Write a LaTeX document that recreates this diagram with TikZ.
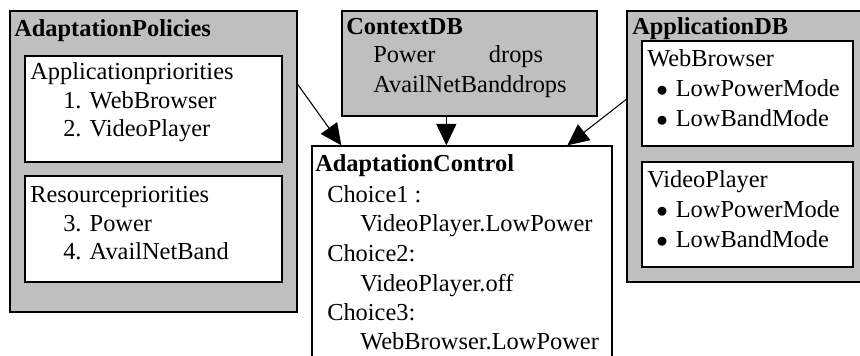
\documentclass[tikz,border=0pt]{standalone}
\usepackage{fontspec}
\setmainfont{Liberation Serif}
\usetikzlibrary{arrows.meta,fit,calc,positioning}

\tikzset{
  graybox/.style={draw,line width=1pt,fill=gray!50!white,inner sep=0pt},
  whitebox/.style={draw,line width=1pt,fill=white,inner sep=0pt},
  txt/.style={anchor=base west,inner sep=0pt,font=\fontsize{18.3}{21}\selectfont},
  ttl/.style={txt,font=\fontsize{18.3}{21}\selectfont\bfseries},
  arr/.style={line width=0.8pt,-{Triangle[length=16pt,width=15pt]}}
}
\newcommand{\bul}{$\bullet$\hspace{6pt}}

\begin{document}
\begin{tikzpicture}[x=0.75pt,y=-0.75pt]
\useasboundingbox (0,0) rectangle (860,356);
\clip (0,0) rectangle (860,356);

% boxes
\node[graybox,fit={(10,11) (297,312)}] (pol) {};
\node[whitebox,fit={(25,56) (282,162)}] (appprio) {};
\node[whitebox,fit={(25,176) (282,282)}] (resprio) {};
\node[graybox,fit={(342,11) (597,116)}] (ctx) {};
\node[whitebox,fit={(312,146) (612,380)}] (ctrl) {};
\node[graybox,fit={(627,11) (880,282)}] (appdb) {};
\node[whitebox,fit={(642,41) (853,146)}] (web) {};
\node[whitebox,fit={(642,162) (853,267)}] (video) {};

% adaptation policies
\node[ttl] (polttl) at (14,37) {AdaptationPolicies};
\node[txt] (appttl) at (30,80) {Applicationpriorities};
\node[txt] (app1) at (63,109) {1. WebBrowser};
\node[txt] (app2) at (63,137) {2. VideoPlayer};
\node[txt] (resttl) at (30,202) {Resourcepriorities};
\node[txt] (res3) at (63,231) {3. Power};
\node[txt] (res4) at (63,259) {4. AvailNetBand};

% context db
\node[ttl] (ctxttl) at (346,35) {ContextDB};
\node[txt] (ctx1) at (373,63) {Power\hspace{40pt}drops};
\node[txt] (ctx2) at (373,93) {AvailNetBanddrops};

% adaptation control
\node[ttl] (ctrlttl) at (315,172) {AdaptationControl};
\node[txt] (ch1) at (327,202) {Choice1 :};
\node[txt] (ch1a) at (360,231) {VideoPlayer.LowPower};
\node[txt] (ch2) at (327,261) {Choice2:};
\node[txt] (ch2a) at (360,291) {VideoPlayer.off};
\node[txt] (ch3) at (327,320) {Choice3:};
\node[txt] (ch3a) at (360,349) {WebBrowser.LowPower};

% application db
\node[ttl] (dbttl) at (632,35) {ApplicationDB};
\node[txt] (webttl) at (647,67) {WebBrowser};
\node[txt] (web1) at (656,97) {\bul LowPowerMode};
\node[txt] (web2) at (656,127) {\bul LowBandMode};
\node[txt] (vidttl) at (647,187) {VideoPlayer};
\node[txt] (vid1) at (656,217) {\bul LowPowerMode};
\node[txt] (vid2) at (656,247) {\bul LowBandMode};

% arrows
\draw[arr] ($(pol.north east)+(0,74)$) -- ($(ctrl.north west)+(30,0)$);
\draw[arr] ($(ctx.south west)+(105,0)$) -- ($(ctrl.north west)+(135,0)$);
\draw[arr] ($(appdb.north west)+(0,89)$) -- ($(ctrl.north west)+(256,0)$);
\end{tikzpicture}
\end{document}
